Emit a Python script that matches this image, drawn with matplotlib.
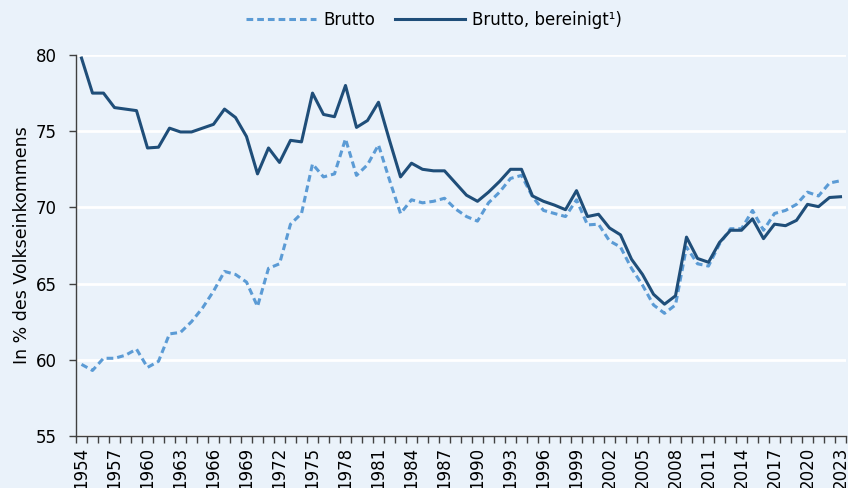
import matplotlib
matplotlib.use("Agg")
import matplotlib.pyplot as plt
import numpy as np

years = list(range(1954, 2024))
brutto = [59.7, 59.3, 60.1, 60.1, 60.3, 60.7, 59.5, 59.9, 61.7, 61.8,
          62.5, 63.4, 64.5, 65.8, 65.6, 65.1, 63.5, 66.0, 66.3, 68.9,
          69.6, 72.85, 72.0, 72.2, 74.5, 72.1, 72.8, 74.1, 71.8, 69.6,
          70.5, 70.3, 70.4, 70.6, 69.9, 69.4, 69.1, 70.3, 71.0, 71.9,
          72.1, 70.7, 69.8, 69.6, 69.4, 70.5, 68.85, 68.9, 67.8, 67.4,
          66.0, 64.9, 63.6, 63.05, 63.6, 67.4, 66.3, 66.15, 67.6, 68.6,
          68.6, 69.8, 68.5, 69.6, 69.8, 70.2, 71.0, 70.75, 71.6, 71.75]
bereinigt = [79.8, 77.5, 77.5, 76.55, 76.45, 76.35, 73.9, 73.95, 75.2, 74.95,
             74.95, 75.2, 75.45, 76.45, 75.9, 74.65, 72.2, 73.9, 72.95, 74.4,
             74.3, 77.5, 76.1, 75.95, 78.0, 75.25, 75.7, 76.9, 74.4, 72.0,
             72.9, 72.5, 72.4, 72.4, 71.6, 70.8, 70.4, 71.0, 71.7, 72.5,
             72.5, 70.75, 70.4, 70.15, 69.85, 71.1, 69.4, 69.55, 68.65, 68.2,
             66.6, 65.6, 64.3, 63.65, 64.2, 68.05, 66.65, 66.4, 67.7, 68.5,
             68.5, 69.25, 67.95, 68.9, 68.8, 69.15, 70.2, 70.05, 70.65, 70.7]
legend_labels = ["Brutto", "Brutto, bereinigt¹)"]
ylabel = "In % des Volkseinkommens"

bg = "#EAF2FA"
c_dash = "#5B9BD5"
c_solid = "#1F4E79"
plt.rcParams['font.family'] = ['DejaVu Sans']

fig = plt.figure(figsize=(8.48, 4.88), dpi=100, facecolor=bg)
ax = fig.add_axes([76/848, 1-436/488, 770/848, 381/488])
ax.set_facecolor(bg)

x = np.arange(len(years))
l1, = ax.plot(x, brutto, color=c_dash, lw=2.2, ls=(0, (2.2, 1.3)), label=legend_labels[0])
l2, = ax.plot(x, bereinigt, color=c_solid, lw=2.2, label=legend_labels[1])

ax.set_xlim(-0.5, len(years) - 0.5)
ax.set_ylim(55, 80)
ax.set_yticks([55, 60, 65, 70, 75, 80])
ax.yaxis.grid(True, color="white", lw=2)
ax.set_axisbelow(True)

major = x[::3]
ax.set_xticks(major)
ax.set_xticklabels([str(years[i]) for i in major], rotation=90, fontsize=12)
ax.set_xticks(np.arange(-0.5, len(years), 1), minor=True)
ax.tick_params(axis='x', which='major', length=0, pad=8)
ax.tick_params(axis='x', which='minor', length=5, color="#404040", width=1)
ax.tick_params(axis='y', length=5, color="#404040", width=1, labelsize=12, pad=9)

for s in ["top", "right"]:
    ax.spines[s].set_visible(False)
for s in ["left", "bottom"]:
    ax.spines[s].set_color("#404040")
    ax.spines[s].set_linewidth(1)

ax.set_ylabel(ylabel, fontsize=12.5, labelpad=3)

fig.legend(handles=[l1, l2], loc="center", bbox_to_anchor=(434/848, 1-20/488),
           ncol=2, frameon=False, fontsize=12, handlelength=4.2, columnspacing=1.2,
           handletextpad=0.4)

fig.savefig("out.png", dpi=100, facecolor=bg)
